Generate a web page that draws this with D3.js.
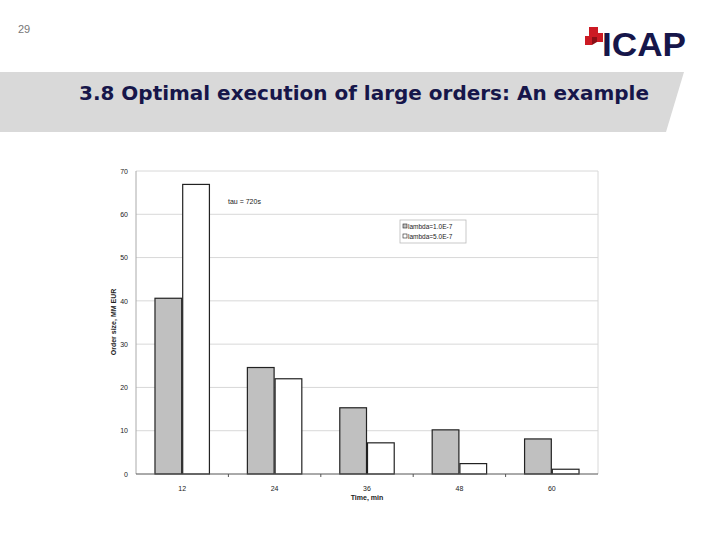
<!DOCTYPE html>
<html><head><meta charset="utf-8">
<script src="https://cdn.jsdelivr.net/npm/d3@7"></script>
<style>body{margin:0;background:#fff}svg{display:block}</style>
</head><body>
<script>
const categories = ["12", "24", "36", "48", "60"];
const seriesNames = ["lambda=1.0E-7", "lambda=5.0E-7"];
const lambda1 = [40.6, 24.6, 15.3, 10.2, 8.1];
const lambda5 = [66.9, 22.0, 7.2, 2.4, 1.1];
const yTicks = [0, 10, 20, 30, 40, 50, 60, 70];

const W = 720, H = 540;
const svg = d3.select("body").append("svg").attr("width", W).attr("height", H);

// page header
svg.append("text").attr("x", 18).attr("y", 33).attr("font-family", "Liberation Sans, Arial").attr("font-size", 11).attr("fill", "#777").text("29");
svg.append("path").attr("d", "M0,72 L684,72 L666,132 L0,132 Z").attr("fill", "#d9d9d9");
svg.append("text").attr("x", 79).attr("y", 100).attr("font-family", "DejaVu Sans, Verdana").attr("font-weight", "bold").attr("font-size", 19).attr("fill", "#16164a")
  .attr("textLength", 570).attr("lengthAdjust", "spacingAndGlyphs").text("3.8 Optimal execution of large orders: An example");

// logo
const lg = svg.append("g");
lg.append("path").attr("d", "M589,27 L598,27 L598,33 L603,33 L603,42 L597,42 L597,37 L592,37 L592,45 L585,45 L585,36 L589,36 Z").attr("fill", "#cc1a24");
lg.append("path").attr("d", "M592,37 L597,37 L597,42 L592,45 Z").attr("fill", "#8a0f16");
lg.append("text").attr("x", 602).attr("y", 56).attr("font-family", "Liberation Sans, Arial").attr("font-weight", "bold").attr("font-size", 33).attr("fill", "#16164a").attr("textLength", 84).attr("lengthAdjust", "spacingAndGlyphs").text("ICAP");

// chart
const x0 = 136, x1 = 598, yTop = 171, yBot = 474;
const x = d3.scaleBand().domain(categories).range([x0, x1]).paddingInner(0.4).paddingOuter(0.2);
const y = d3.scaleLinear().domain([0, 70]).range([yBot, yTop]);
const xs = d3.scaleBand().domain([0, 1]).range([0, x.bandwidth()]);

const g = svg.append("g");
// gridlines
g.selectAll(".grid").data(yTicks.slice(1)).join("line")
  .attr("x1", x0).attr("x2", x1).attr("y1", d => y(d)).attr("y2", d => y(d))
  .attr("stroke", "#d8d8d8").attr("stroke-width", 1);
// plot border right & left
g.append("line").attr("x1", x1).attr("x2", x1).attr("y1", yTop).attr("y2", yBot).attr("stroke", "#d8d8d8");
g.append("line").attr("x1", x0).attr("x2", x0).attr("y1", yTop).attr("y2", yBot).attr("stroke", "#aaa");

const fonts = "Liberation Sans, Arial";
// bars
const data = categories.map((c, i) => ({c, v: [lambda1[i], lambda5[i]]}));
const grp = g.selectAll(".cat").data(data).join("g").attr("transform", d => `translate(${x(d.c)},0)`);
grp.selectAll("rect").data(d => d.v.map((v, k) => ({v, k}))).join("rect")
  .attr("x", d => xs(d.k) + 0.5).attr("width", xs.bandwidth() - 1)
  .attr("y", d => y(d.v)).attr("height", d => yBot - y(d.v))
  .attr("fill", d => d.k === 0 ? "#c0c0c0" : "#ffffff")
  .attr("stroke", "#222").attr("stroke-width", 1.2);

// y axis
const ya = g.append("g").attr("transform", `translate(${x0},0)`)
  .call(d3.axisLeft(y).tickValues(yTicks).tickSize(0).tickPadding(8));
ya.select(".domain").remove();
ya.selectAll("text").attr("font-family", fonts).attr("font-size", 7).attr("fill", "#222");

// x axis
const xa = g.append("g").attr("transform", `translate(0,${yBot})`)
  .call(d3.axisBottom(x).tickSize(0).tickPadding(12));
xa.select(".domain").attr("stroke", "#555").attr("d", `M${x0},0H${x1}`);
xa.selectAll("text").attr("font-family", fonts).attr("font-size", 7).attr("fill", "#222");
const step = x.step();
g.selectAll(".xt").data(categories.slice(1)).join("line")
  .attr("x1", d => x(d) - x.paddingInner() * step / 2 ).attr("x2", d => x(d) - x.paddingInner() * step / 2)
  .attr("y1", yBot).attr("y2", yBot + 3).attr("stroke", "#555");

// axis titles
svg.append("text").attr("x", 367).attr("y", 500).attr("text-anchor", "middle").attr("font-family", fonts).attr("font-weight", "bold").attr("font-size", 7).attr("fill", "#222").text("Time, min");
svg.append("text").attr("transform", "translate(116,322) rotate(-90)").attr("text-anchor", "middle").attr("font-family", fonts).attr("font-weight", "bold").attr("font-size", 7).attr("fill", "#222").text("Order size, MM EUR");

// annotation
svg.append("text").attr("x", 228).attr("y", 204).attr("font-family", fonts).attr("font-size", 7).attr("fill", "#222").text("tau = 720s");

// legend
const L = svg.append("g").attr("transform", "translate(400,220)");
L.append("rect").attr("width", 66).attr("height", 23).attr("fill", "#fff").attr("stroke", "#bbb").attr("stroke-width", 0.8);
seriesNames.forEach((s, i) => {
  L.append("rect").attr("x", 3).attr("y", 4 + i * 10).attr("width", 4).attr("height", 4)
    .attr("fill", i === 0 ? "#c0c0c0" : "#fff").attr("stroke", "#222").attr("stroke-width", 0.6);
  L.append("text").attr("x", 8).attr("y", 9 + i * 10).attr("font-family", fonts).attr("font-size", 6.5).attr("fill", "#222").text(s);
});
</script>
</body></html>
